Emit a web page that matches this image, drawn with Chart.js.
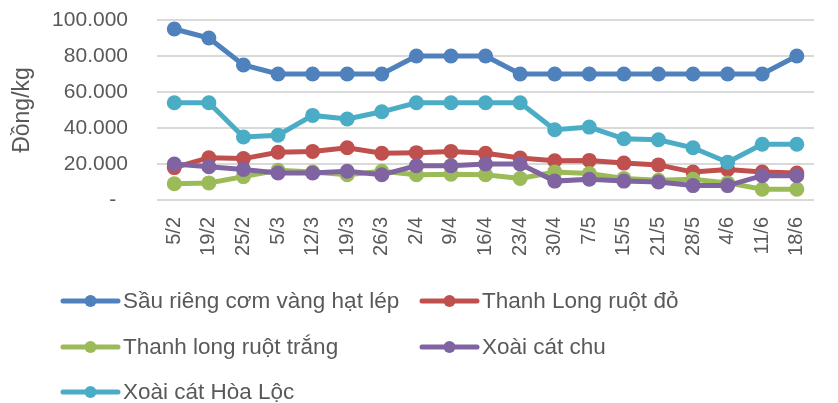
<!DOCTYPE html>
<html>
<head>
<meta charset="utf-8">
<script src="https://cdn.jsdelivr.net/npm/chart.js@4/dist/chart.umd.min.js"></script>
<style>
  body { margin: 0; background: #fff; }
</style>
</head>
<body>
<canvas id="myChart" width="838" height="403"></canvas>
<script>
// ngày lấy giá
const labels = ['5/2', '19/2', '25/2', '5/3', '12/3', '19/3', '26/3', '2/4', '9/4', '16/4', '23/4',
  '30/4', '7/5', '15/5', '21/5', '28/5', '4/6', '11/6', '18/6']

const sauRieng = [95000, 90000, 75000, 70000, 70000, 70000, 70000, 80000, 80000, 80000, 70000,
  70000, 70000, 70000, 70000, 70000, 70000, 70000, 80000]
const thanhLongDo = [18000, 23500, 23000, 26500, 27000, 29000, 26000, 26300, 27000, 26000, 23300,
  21800, 22000, 20500, 19500, 15500, 17000, 15500, 15000]
const thanhLongTrang = [9000, 9500, 13000, 16500, 15500, 14000, 16000, 14000, 14300, 14000, 12000,
  15600, 14700, 12000, 11000, 11500, 9500, 6000, 6000]
const xoaiCatChu = [20000, 18500, 17000, 15000, 15000, 16000, 14000, 19000, 19000, 20000, 20000,
  10500, 11500, 10500, 10000, 8000, 8000, 13500, 13500]
const xoaiHoaLoc = [54000, 54000, 35000, 36000, 47000, 45000, 49000, 54000, 54000, 54000, 54000,
  39000, 40500, 34000, 33500, 29000, 21000, 31000, 31000]

const seriesNames = ['Sầu riêng cơm vàng hạt lép', 'Thanh Long ruột đỏ', 'Thanh long ruột trắng',
  'Xoài cát chu', 'Xoài cát Hòa Lộc']
const seriesData = [sauRieng, thanhLongDo, thanhLongTrang, xoaiCatChu, xoaiHoaLoc]
const colors = ['#4f81bd', '#c0504d', '#9bbb59', '#8064a2', '#4bacc6']

const yTicks = [0, 20000, 40000, 60000, 80000, 100000]

const textColor = '#595959'
const fontFamily = '"Liberation Sans", Arial, sans-serif'

function formatNumber(v) {
  if (v === 0) return '-  '
  return String(v).replace(/\B(?=(\d{3})+(?!\d))/g, '.')
}

// legend kiểu Excel: 2 cột, căn trái
const legendPlugin = {
  id: 'excelLegend',
  afterDraw(chart) {
    const ctx = chart.ctx
    const cols = [63, 422]
    const rows = [301, 347, 392]
    chart.data.datasets.forEach((ds, i) => {
      const x = cols[i % 2]
      const y = rows[Math.floor(i / 2)]
      ctx.save()
      ctx.strokeStyle = ds.borderColor
      ctx.lineWidth = 5
      ctx.lineCap = 'round'
      ctx.beginPath()
      ctx.moveTo(x, y)
      ctx.lineTo(x + 55, y)
      ctx.stroke()
      ctx.fillStyle = ds.borderColor
      ctx.beginPath()
      ctx.arc(x + 27.5, y, 6, 0, Math.PI * 2)
      ctx.fill()
      ctx.fillStyle = textColor
      ctx.font = '22.5px ' + fontFamily
      ctx.textBaseline = 'middle'
      ctx.fillText(ds.label, x + 60, y + 1)
      ctx.restore()
    })
  }
}

const datasets = seriesData.map((data, i) => ({
  label: seriesNames[i],
  data: data,
  borderColor: colors[i],
  backgroundColor: colors[i],
  borderWidth: 5,
  pointRadius: 7.5,
  pointBorderWidth: 0,
  pointHoverRadius: 7.5,
  tension: 0,
  order: seriesData.length - i  // series sau vẽ đè lên series trước
}))

const canvas = document.getElementById('myChart')

new Chart(canvas, {
  type: 'line',
  data: { labels: labels, datasets: datasets },
  plugins: [legendPlugin],
  options: {
    responsive: false,
    animation: false,
    devicePixelRatio: 1,
    layout: { padding: { top: 20, right: 6, bottom: 123, left: 0 } },
    plugins: {
      legend: { display: false },
      tooltip: { enabled: false }
    },
    scales: {
      x: {
        offset: true,
        grid: { display: false, drawTicks: false },
        border: { display: false },
        ticks: {
          autoSkip: false,
          maxRotation: 90,
          minRotation: 90,
          padding: 17,
          color: textColor,
          font: { family: fontFamily, size: 20 }
        },
        afterFit(scale) { scale.height = 80 }
      },
      y: {
        min: 0,
        max: 100000,
        afterBuildTicks(scale) { scale.ticks = yTicks.map(v => ({ value: v })) },
        grid: { color: '#d9d9d9', lineWidth: 2, drawTicks: false },
        border: { display: false },
        ticks: {
          padding: 29,
          color: textColor,
          font: { family: fontFamily, size: 21 },
          callback: (v) => formatNumber(v)
        },
        title: {
          display: true,
          text: 'Đồng/kg',
          color: textColor,
          font: { family: fontFamily, size: 23 },
          padding: { top: 9, bottom: 0 }
        },
        afterFit(scale) {
          scale.width = 157
          // tick padding làm chart bị đẩy xuống, bỏ bớt
          scale.paddingTop = 12
          scale.paddingBottom = 12
        }
      }
    }
  }
})
</script>
</body>
</html>
